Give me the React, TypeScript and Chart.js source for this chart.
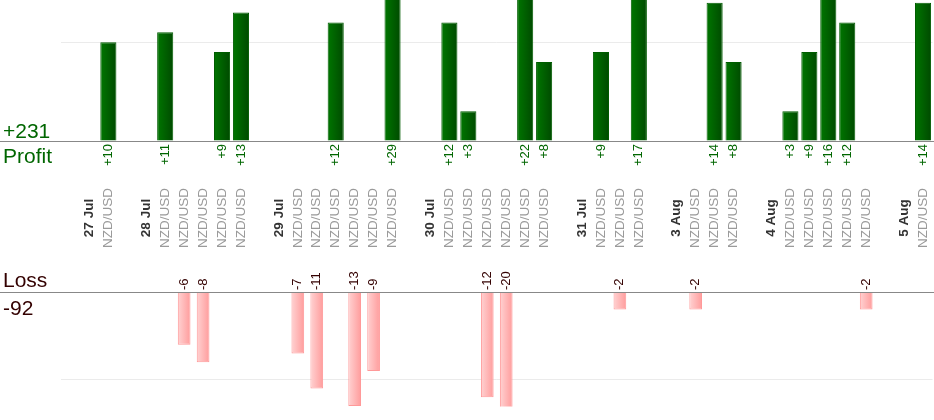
import { useEffect, useRef } from "react";
import {
  Chart,
  registerables,
  type ChartConfiguration,
  type Plugin,
  type ScriptableContext,
} from "chart.js";

Chart.register(...registerables);

const FONT = '"Liberation Sans", Arial, sans-serif';
Chart.defaults.font.family = FONT;

// one group per trading day, every trade is NZD/USD, result in pips
const days = ["27 Jul", "28 Jul", "29 Jul", "30 Jul", "31 Jul", "3 Aug", "4 Aug", "5 Aug"];
const pair = "NZD/USD";
const results = [
  [10],
  [11, -6, -8, 9, 13],
  [-7, -11, 12, -13, -9, 29],
  [12, 3, -12, -20, 22, 8],
  [9, -2, 17],
  [-2, 14, 8],
  [3, 9, 16, 12, -2],
  [14],
];

// visible value window of the two halves
const profitMax = 14.27;
const lossMin = -13.05;
const gridValue = 10;

// each day gets an empty slot, then the date slot, then one slot per trade
const slotLabels: string[] = [];
const profit: (number | null)[] = [];
const loss: (number | null)[] = [];
days.forEach((day, i) => {
  slotLabels.push("", day);
  profit.push(null, null);
  loss.push(null, null);
  results[i].forEach((v) => {
    slotLabels.push(pair);
    profit.push(v > 0 ? v : null);
    loss.push(v < 0 ? v : null);
  });
});

const totalProfit = profit.reduce<number>((s, v) => s + (v ?? 0), 0);
const totalLoss = loss.reduce<number>((s, v) => s + (v ?? 0), 0);

const PROFIT_BAR = 0.85;
const LOSS_BAR = 0.67;

function barGradient(from: string, to: string, pct: number) {
  return (c: ScriptableContext<"bar">) => {
    const { chart, dataIndex } = c;
    const x = chart.scales.x;
    if (!x || !chart.chartArea) return to;
    const cx = x.getPixelForValue(dataIndex);
    const half = ((x.width / slotLabels.length) * pct) / 2;
    const g = chart.ctx.createLinearGradient(cx - half, 0, cx + half, 0);
    g.addColorStop(0, from);
    g.addColorStop(1, to);
    return g;
  };
}

function baseline(chart: Chart, y0: number) {
  const { ctx } = chart;
  ctx.strokeStyle = "#888";
  ctx.lineWidth = 1;
  ctx.beginPath();
  ctx.moveTo(0, Math.round(y0) + 0.5);
  ctx.lineTo(chart.width, Math.round(y0) + 0.5);
  ctx.stroke();
}

function rotated(ctx: CanvasRenderingContext2D, text: string, x: number, y: number, align: CanvasTextAlign) {
  ctx.save();
  ctx.translate(x, y);
  ctx.rotate(-Math.PI / 2);
  ctx.textAlign = align;
  ctx.textBaseline = "middle";
  ctx.fillText(text, 0, 0);
  ctx.restore();
}

const profitLabels: Plugin<"bar"> = {
  id: "profitLabels",
  afterDraw(chart) {
    const { ctx } = chart;
    const x = chart.scales.x;
    const y0 = chart.scales.y.getPixelForValue(0);
    ctx.save();
    baseline(chart, y0);

    ctx.fillStyle = "#006600";
    ctx.font = `21px ${FONT}`;
    ctx.textAlign = "left";
    ctx.textBaseline = "alphabetic";
    ctx.fillText(`+${totalProfit}`, 3, y0 - 3);
    ctx.fillText("Profit", 3, y0 + 22);

    ctx.font = `13px ${FONT}`;
    profit.forEach((v, i) => {
      if (v == null) return;
      rotated(ctx, `+${v}`, x.getPixelForValue(i), y0 + 3, "right");
    });

    slotLabels.forEach((label, i) => {
      if (!label) return;
      const isDay = label !== pair;
      ctx.fillStyle = isDay ? "#333" : "#9a9a9a";
      ctx.font = `${isDay ? "bold " : ""}13.5px ${FONT}`;
      rotated(ctx, label, x.getPixelForValue(i), y0 + 77, "center");
    });
    ctx.restore();
  },
};

const lossLabels: Plugin<"bar"> = {
  id: "lossLabels",
  afterDraw(chart) {
    const { ctx } = chart;
    const x = chart.scales.x;
    const y0 = chart.scales.y.getPixelForValue(0);
    ctx.save();
    baseline(chart, y0);

    ctx.fillStyle = "#330000";
    ctx.font = `21px ${FONT}`;
    ctx.textAlign = "left";
    ctx.textBaseline = "alphabetic";
    ctx.fillText("Loss", 3, y0 - 5);
    ctx.fillText(`${totalLoss}`, 3, y0 + 23);

    ctx.font = `13px ${FONT}`;
    loss.forEach((v, i) => {
      if (v == null) return;
      rotated(ctx, `${v}`, x.getPixelForValue(i), y0 - 2, "left");
    });
    ctx.restore();
  },
};

const gridColor = (c: any) => (c.tick && Math.abs(c.tick.value) === gridValue ? "#ebebeb" : "rgba(0,0,0,0)");

const profitConfig: ChartConfiguration<"bar"> = {
  type: "bar",
  data: {
    labels: slotLabels,
    datasets: [
      {
        data: profit,
        backgroundColor: barGradient("#007600", "#004a00", PROFIT_BAR),
        borderColor: "#005c00",
        borderWidth: 1,
        barPercentage: PROFIT_BAR,
        categoryPercentage: 1,
      },
    ],
  },
  options: {
    animation: false,
    responsive: true,
    maintainAspectRatio: false,
    layout: { padding: { left: 61, right: 1.5, top: 0, bottom: 119 } },
    plugins: { legend: { display: false }, tooltip: { enabled: false } },
    scales: {
      x: { display: false },
      y: {
        min: 0,
        max: profitMax,
        ticks: { display: false, stepSize: gridValue },
        grid: { color: gridColor, drawTicks: false },
        border: { display: false },
      },
    },
  },
  plugins: [profitLabels],
};

const lossConfig: ChartConfiguration<"bar"> = {
  type: "bar",
  data: {
    labels: slotLabels,
    datasets: [
      {
        data: loss,
        backgroundColor: barGradient("#ffd2d2", "#ff9c9c", LOSS_BAR),
        borderColor: "#ff9999",
        borderWidth: 1,
        barPercentage: LOSS_BAR,
        categoryPercentage: 1,
      },
    ],
  },
  options: {
    animation: false,
    responsive: true,
    maintainAspectRatio: false,
    layout: { padding: { left: 61, right: 1.5, top: 32, bottom: 13.5 } },
    plugins: { legend: { display: false }, tooltip: { enabled: false } },
    scales: {
      x: { display: false },
      y: {
        min: lossMin,
        max: 0,
        ticks: { display: false, stepSize: gridValue },
        grid: { color: gridColor, drawTicks: false },
        border: { display: false },
      },
    },
  },
  plugins: [lossLabels],
};

function ChartCanvas({ config, height }: { config: ChartConfiguration<"bar">; height: number }) {
  const canvasRef = useRef<HTMLCanvasElement>(null);

  useEffect(() => {
    if (!canvasRef.current) return;
    const chart = new Chart(canvasRef.current, config);
    return () => chart.destroy();
  }, [config]);

  return (
    <div style={{ position: "relative", width: 934, height }}>
      <canvas ref={canvasRef} />
    </div>
  );
}

export default function App() {
  return (
    <div style={{ position: "fixed", left: 0, top: 0, width: 934, height: 420, background: "#fff" }}>
      <ChartCanvas config={profitConfig} height={260} />
      <ChartCanvas config={lossConfig} height={160} />
    </div>
  );
}
